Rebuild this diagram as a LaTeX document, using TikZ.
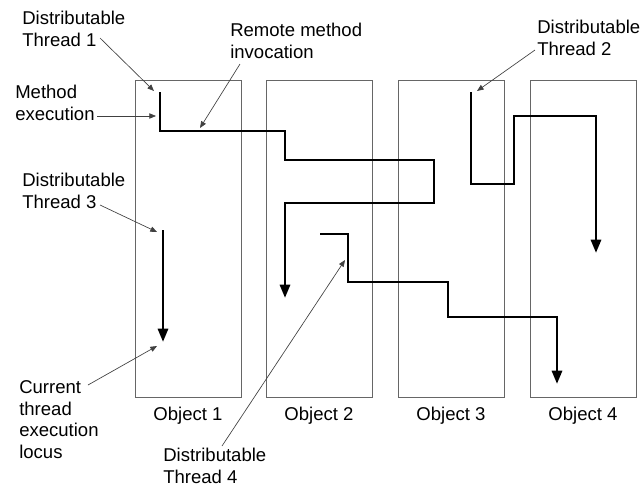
\documentclass[tikz,border=0pt]{standalone}
\usepackage{fontspec}
\setmainfont{Liberation Sans}
\usetikzlibrary{arrows.meta}

\begin{document}
\begin{tikzpicture}[x=0.75pt, y=-0.75pt,
    objbox/.style={draw=black!60, line width=0.7pt},
    thread/.style={line width=2.2pt, -{Triangle[length=10pt,width=7.5pt]}},
    note/.style={font=\fontsize{13.9}{16.4}\selectfont, align=left,
                 anchor=north west, inner sep=0pt},
    pointer/.style={draw=black!75, line width=0.5pt,
                    -{Triangle[length=5pt,width=4pt]}}]
  \useasboundingbox (0,0) rectangle (640,487);
  % --- Objects ---
  \foreach \n/\x in {1/135, 2/266, 3/398, 4/530} {
    \draw[objbox] (\x,80) rectangle ++(106,317);
    \node[note, anchor=north] (obj\n) at (\x+53,407) {Object \n};
  }
  % --- Threads ---
  \draw[thread] (160,92) -- (160,131) -- (285,131) -- (285,160)
    -- (434,160) -- (434,203) -- (285,203) -- (285,298);
  \draw[thread] (471,92) -- (471,184) -- (514,184) -- (514,116)
    -- (596,116) -- (596,253);
  \draw[thread] (163,230) -- (163,342);
  \draw[thread] (320,234) -- (348,234) -- (348,282) -- (448,282)
    -- (448,317) -- (557,317) -- (557,384);
  % --- Labels ---
  \node[note] (dtone) at (22,11) {Distributable\\Thread 1};
  \node[note] (remote) at (230,23) {Remote method\\invocation};
  \node[note] (method) at (15,85) {Method\\execution};
  \node[note] (dtthree) at (22,173) {Distributable\\Thread 3};
  \node[note] (dttwo) at (537,20) {Distributable\\Thread 2};
  \node[note] (locus) at (19,380) {Current\\thread\\execution\\locus};
  \node[note] (dtfour) at (163,448) {Distributable\\Thread 4};
  % --- Pointer ends ---
  \coordinate (dtoneS) at (100,38);   \coordinate (dtoneE) at (154,91);
  \coordinate (methodS) at (97,116);  \coordinate (methodE) at (156,116);
  \coordinate (remoteS) at (240,64);  \coordinate (remoteE) at (200,128);
  \coordinate (dtthreeS) at (100,205);\coordinate (dtthreeE) at (157,232);
  \coordinate (dttwoS) at (535,50);   \coordinate (dttwoE) at (477,91);
  \coordinate (locusS) at (88,385);   \coordinate (locusE) at (157,346);
  \coordinate (dtfourS) at (222,446); \coordinate (dtfourE) at (345,260);
  % --- Pointers ---
  \foreach \p in {dtone, method, remote, dtthree, dttwo, locus, dtfour}
    \draw[pointer] (\p S) -- (\p E);
\end{tikzpicture}
\end{document}
